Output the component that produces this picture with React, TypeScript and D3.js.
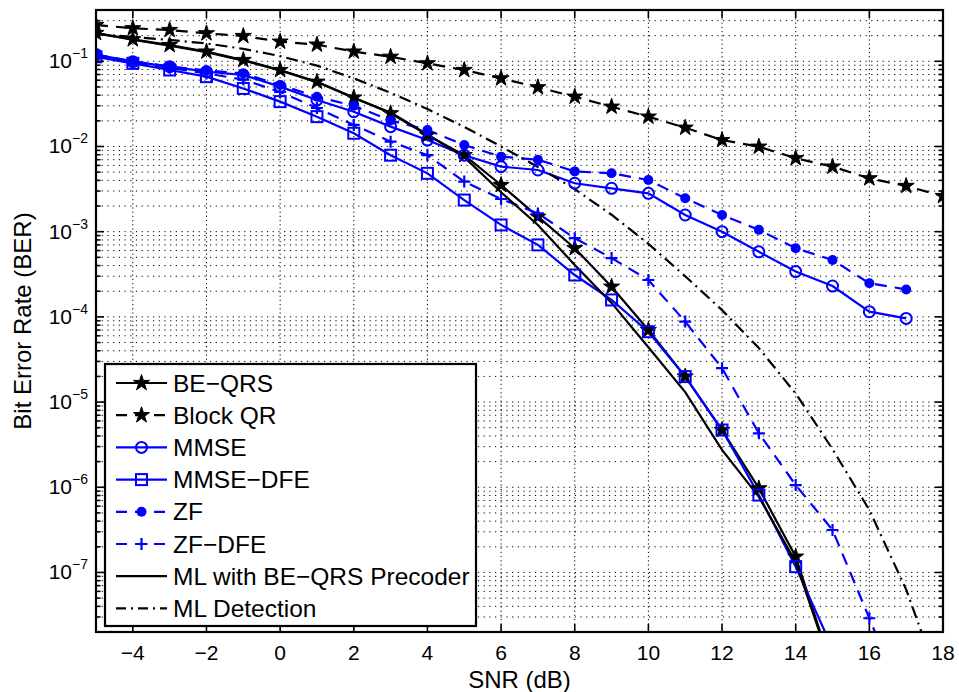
import * as d3 from 'd3';

// SNR points (dB)
const snrTo18 = [-5, -4, -3, -2, -1, 0, 1, 2, 3, 4, 5, 6, 7, 8, 9, 10, 11, 12, 13, 14, 15, 16, 17, 18]
const snrTo17 = [-5, -4, -3, -2, -1, 0, 1, 2, 3, 4, 5, 6, 7, 8, 9, 10, 11, 12, 13, 14, 15, 16, 17]
const snrTo15 = [-5, -4, -3, -2, -1, 0, 1, 2, 3, 4, 5, 6, 7, 8, 9, 10, 11, 12, 13, 14, 15]

// BER values
const beQrs = [0.215, 0.181, 0.155, 0.130, 0.1035, 0.079, 0.0576, 0.0375, 0.0245, 0.0136, 0.0079, 0.00353, 0.0015, 6.4e-4, 2.26e-4, 7.0e-5, 1.99e-5, 4.7e-6, 9.7e-7, 1.53e-7, 7.2e-9]
const blockQr = [0.267, 0.244, 0.233, 0.213, 0.198, 0.170, 0.157, 0.130, 0.113, 0.0946, 0.079, 0.063, 0.0495, 0.0384, 0.0293, 0.0224, 0.0166, 0.0119, 0.00995, 0.00728, 0.0058, 0.00423, 0.00344, 0.00262]
const mmse = [0.12, 0.099, 0.0865, 0.0755, 0.069, 0.0504, 0.0352, 0.0256, 0.0171, 0.0119, 0.0079, 0.0058, 0.0053, 0.0037, 0.00323, 0.00282, 0.00157, 0.0010, 5.8e-4, 3.4e-4, 2.3e-4, 1.15e-4, 9.6e-5]
const mmseDfe = [0.113, 0.0946, 0.079, 0.066, 0.048, 0.0336, 0.0224, 0.0143, 0.0079, 0.00484, 0.00235, 0.0012, 7.0e-4, 3.1e-4, 1.58e-4, 6.7e-5, 1.99e-5, 4.7e-6, 8.1e-7, 1.17e-7, 1.28e-8]
const zf = [0.12, 0.10, 0.087, 0.078, 0.072, 0.0527, 0.0384, 0.030, 0.0202, 0.0156, 0.0104, 0.0076, 0.0070, 0.0051, 0.00484, 0.00404, 0.00247, 0.00157, 0.00105, 6.4e-4, 4.65e-4, 2.48e-4, 2.1e-4]
const zfDfe = [0.115, 0.096, 0.084, 0.072, 0.061, 0.0436, 0.0283, 0.0179, 0.0114, 0.0079, 0.00387, 0.00242, 0.00164, 8.4e-4, 4.9e-4, 2.71e-4, 8.8e-5, 2.5e-5, 4.3e-6, 1.06e-6, 3.15e-7, 2.9e-8, 2.5e-9]
const mlPrecoder = [0.213, 0.179, 0.153, 0.128, 0.102, 0.078, 0.057, 0.037, 0.025, 0.0138, 0.0075, 0.0029, 0.0012, 4.06e-4, 1.46e-4, 4.4e-5, 1.31e-5, 2.74e-6, 7.7e-7, 1.33e-7, 7e-9]
const mlDetection = [0.209, 0.193, 0.178, 0.162, 0.140, 0.115, 0.089, 0.063, 0.0427, 0.0275, 0.0170, 0.0100, 0.00575, 0.00316, 0.00158, 7.2e-4, 3.0e-4, 1.2e-4, 4.3e-5, 1.26e-5, 2.8e-6, 5.4e-7, 6.3e-8, 4e-9]

const xTicks = [-4, -2, 0, 2, 4, 6, 8, 10, 12, 14, 16, 18]
const yExponents = [-1, -2, -3, -4, -5, -6, -7]

const BLUE = '#0000ff'
const FONT = '"Liberation Sans", Arial, Helvetica, sans-serif'

const series = [
  { name: 'BE\u2212QRS', x: snrTo15, y: beQrs, color: '#000', dash: null, marker: 'star' },
  { name: 'Block QR', x: snrTo18, y: blockQr, color: '#000', dash: '12 8', marker: 'star' },
  { name: 'MMSE', x: snrTo17, y: mmse, color: BLUE, dash: null, marker: 'circle' },
  { name: 'MMSE\u2212DFE', x: snrTo15, y: mmseDfe, color: BLUE, dash: null, marker: 'square' },
  { name: 'ZF', x: snrTo17, y: zf, color: BLUE, dash: '12 8', marker: 'dot' },
  { name: 'ZF\u2212DFE', x: snrTo17, y: zfDfe, color: BLUE, dash: '12 8', marker: 'plus' },
  { name: 'ML with BE\u2212QRS Precoder', x: snrTo15, y: mlPrecoder, color: '#000', dash: null, marker: null },
  { name: 'ML Detection', x: snrTo18, y: mlDetection, color: '#000', dash: '12 5 2 5', marker: null },
]

const W = 959, H = 692
const left = 96, right = 943, top = 10, bottom = 632

const starPath = d3.symbol(d3.symbolStar, 80)()

function Marker({ kind, cx, cy, color }) {
  if (kind === 'star') return <path d={starPath} transform={`translate(${cx},${cy})`} fill={color} stroke={color} strokeWidth={1} />
  if (kind === 'circle') return <circle cx={cx} cy={cy} r={5.5} fill="none" stroke={color} strokeWidth={2} />
  if (kind === 'square') return <rect x={cx - 5.5} y={cy - 5.5} width={11} height={11} fill="none" stroke={color} strokeWidth={2} />
  if (kind === 'dot') return <circle cx={cx} cy={cy} r={5} fill={color} />
  if (kind === 'plus') return <path d={`M${cx - 6},${cy}H${cx + 6}M${cx},${cy - 6}V${cy + 6}`} stroke={color} strokeWidth={2.2} />
  return null
}

export default function App() {
  const x = d3.scaleLinear().domain([-5, 18]).range([left, right])
  const y = d3.scaleLog().domain([2e-8, 0.4]).range([bottom, top])

  const line = d3.line<number>()

  const minorTicks: number[] = []
  for (let e = -8; e <= -1; e++) {
    for (let m = 1; m <= 9; m++) {
      const v = m * Math.pow(10, e)
      if (v >= 2e-8 && v <= 0.4) minorTicks.push(v)
    }
  }

  const legendRows = [383, 415.2, 447.4, 479.6, 511.8, 544, 576.2, 608.4]

  return (
    <svg width={W} height={H} style={{ position: 'absolute', left: 0, top: 0, background: '#fff' }} fontFamily={FONT}>
      <defs>
        <clipPath id="plotClip">
          <rect x={left} y={top} width={right - left} height={bottom - top} />
        </clipPath>
      </defs>
      <rect x={0} y={0} width={W} height={H} fill="#fff" />

      {/* grid */}
      <g stroke="#000" strokeWidth={1} strokeDasharray="1.2 4.5">
        {minorTicks.map((v, i) => (
          <line key={'hg' + i} x1={left} x2={right} y1={y(v)} y2={y(v)} />
        ))}
        {xTicks.slice(0, -1).map(t => (
          <line key={'vg' + t} x1={x(t)} x2={x(t)} y1={top} y2={bottom} strokeDasharray="1.2 3" />
        ))}
      </g>

      {/* series */}
      <g clipPath="url(#plotClip)">
        {series.map(s => (
          <path key={s.name} d={line(s.x.map((v, i) => [x(v), y(s.y[i])]))!} fill="none" stroke={s.color} strokeWidth={2.2} strokeDasharray={s.dash || undefined} />
        ))}
        {series.map(s => s.marker && s.x.map((v, i) => (
          <Marker key={s.name + i} kind={s.marker} cx={x(v)} cy={y(s.y[i])} color={s.color} />
        )))}
      </g>

      {/* ticks */}
      <g stroke="#000" strokeWidth={1.6}>
        {xTicks.map(t => (
          <g key={'xt' + t}>
            <line x1={x(t)} x2={x(t)} y1={bottom} y2={bottom - 8} />
            <line x1={x(t)} x2={x(t)} y1={top} y2={top + 8} />
          </g>
        ))}
        {minorTicks.map((v, i) => {
          const major = Math.abs(Math.log10(v) - Math.round(Math.log10(v))) < 1e-9
          const len = major ? 8 : 4.5
          return (
            <g key={'yt' + i}>
              <line x1={left} x2={left + len} y1={y(v)} y2={y(v)} />
              <line x1={right} x2={right - len} y1={y(v)} y2={y(v)} />
            </g>
          )
        })}
      </g>

      {/* frame */}
      <rect x={left} y={top} width={right - left} height={bottom - top} fill="none" stroke="#000" strokeWidth={2.2} />

      {/* tick labels */}
      <g fontSize={21} fill="#000">
        {xTicks.map(t => (
          <text key={'xl' + t} x={x(t)} y={660} textAnchor="middle">{t < 0 ? '\u2212' + Math.abs(t) : t}</text>
        ))}
        {yExponents.map(e => (
          <text key={'yl' + e} x={88} y={y(Math.pow(10, e)) + 7} textAnchor="end">
            10<tspan fontSize={14} dy={-10}>{'\u2212' + Math.abs(e)}</tspan>
          </text>
        ))}
      </g>

      {/* axis labels */}
      <text x={(left + right) / 2} y={688} textAnchor="middle" fontSize={24}>SNR (dB)</text>
      <text transform={`translate(31,${(top + bottom) / 2}) rotate(-90)`} textAnchor="middle" fontSize={24}>Bit Error Rate (BER)</text>

      {/* legend */}
      <g>
        <rect x={105} y={364} width={371} height={262} fill="#fff" stroke="#000" strokeWidth={2.2} />
        {series.map((s, i) => {
          const cy = legendRows[i]
          return (
            <g key={'lg' + i}>
              <line x1={116} x2={167} y1={cy} y2={cy} stroke={s.color} strokeWidth={2.2} strokeDasharray={s.dash ? (s.marker ? '11 8' : '10 5 2 5') : undefined} />
              {s.marker && <Marker kind={s.marker} cx={141.5} cy={cy} color={s.color} />}
              <text x={173} y={cy + 8.5} fontSize={24.5}>{s.name}</text>
            </g>
          )
        })}
      </g>
    </svg>
  )
}
